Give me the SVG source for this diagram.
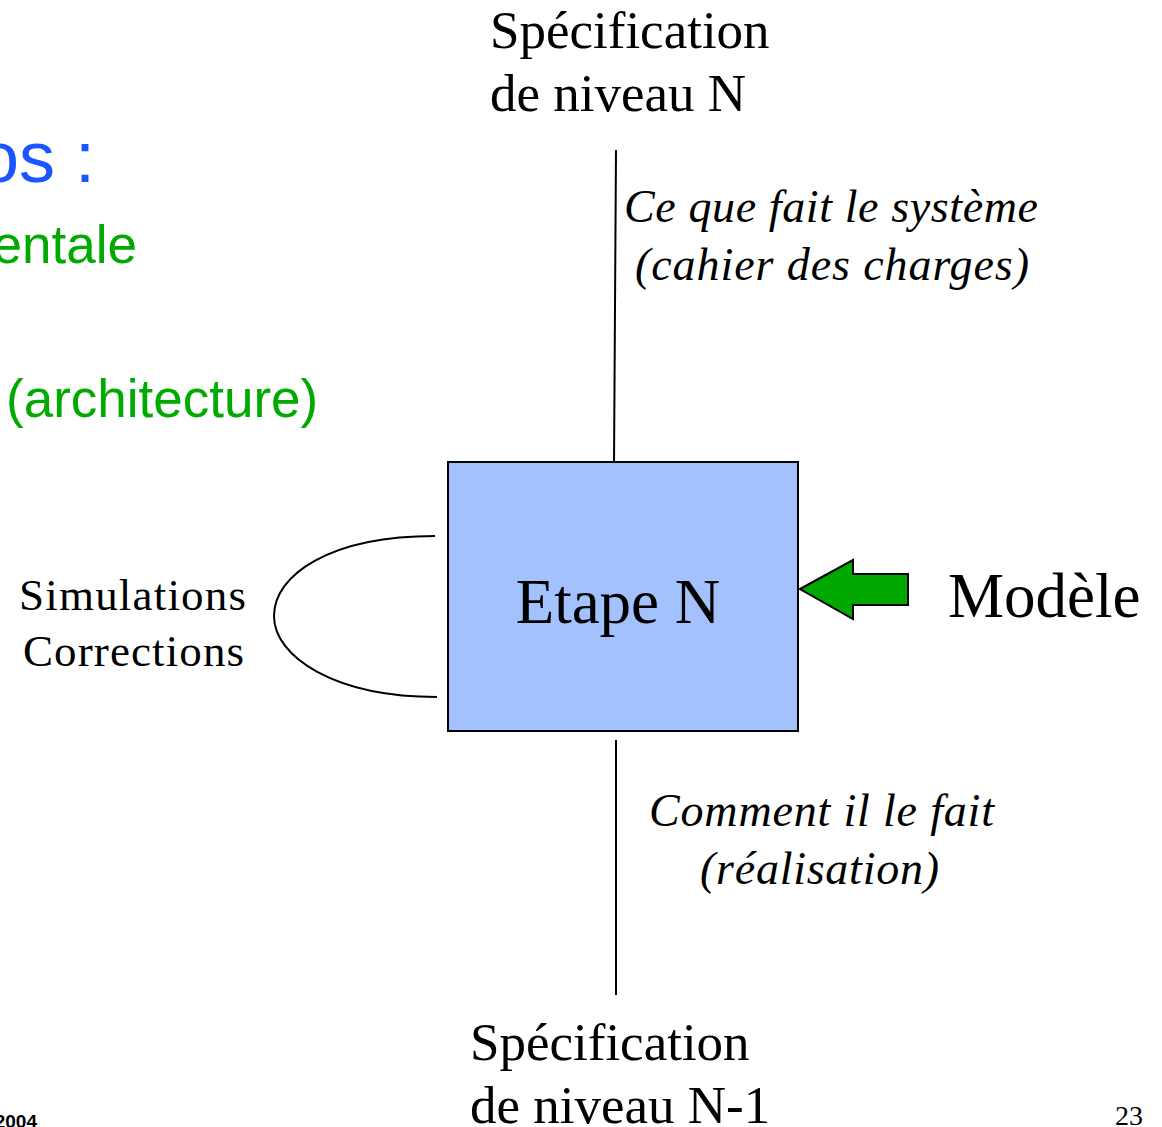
<svg xmlns="http://www.w3.org/2000/svg" width="1162" height="1127" viewBox="0 0 1162 1127">
<style>
.serif{font-family:"Liberation Serif","Times New Roman",serif;fill:#000}
.ital{font-family:"Liberation Serif","Times New Roman",serif;font-style:italic;fill:#000}
.sans{font-family:"Liberation Sans",Arial,sans-serif}
.line{stroke:#000;stroke-width:2;fill:none}
</style>
<rect width="1162" height="1127" fill="#fff"/>
<g id="background-text">
<text class="sans" x="95" y="182" font-size="72" text-anchor="end" fill="#1a55ff">os :</text>
<text class="sans" x="137" y="263" font-size="53" text-anchor="end" fill="#00aa00">entale</text>
<text class="sans" x="6" y="417" font-size="53" fill="#00aa00">(architecture)</text>
<text class="sans" x="37" y="1128" font-size="19" font-weight="bold" text-anchor="end" fill="#000">2004</text>
<text class="serif" x="1143" y="1125" font-size="28" text-anchor="end">23</text>
</g>
<g id="connectors">
<path class="line" d="M616,150 L614,465"/>
<path class="line" d="M616,740 L616,995"/>
<path class="line" d="M435,536 C330,536 274,575 274,616 C274,657 335,697 437,697"/>
</g>
<g id="spec-n">
<text class="serif" x="490" y="48" font-size="53">Spécification</text>
<text class="serif" x="490" y="111" font-size="53">de niveau N</text>
</g>
<g id="label-top">
<text class="ital" x="624" y="222" font-size="46" textLength="414" lengthAdjust="spacing">Ce que fait le système</text>
<text class="ital" x="635" y="280" font-size="46" textLength="394" lengthAdjust="spacing">(cahier des charges)</text>
</g>
<g id="etape-n">
<rect x="448" y="462" width="350" height="269" fill="#a3c1fd" stroke="#000" stroke-width="2"/>
<text class="serif" x="618" y="623" font-size="63" text-anchor="middle">Etape N</text>
</g>
<g id="simulations">
<text class="serif" x="19" y="610" font-size="45" textLength="227" lengthAdjust="spacing">Simulations</text>
<text class="serif" x="23" y="666" font-size="45" textLength="221" lengthAdjust="spacing">Corrections</text>
</g>
<g id="modele">
<path d="M800,589 L853,560 L853,574 L908,574 L908,605 L853,605 L853,619 Z" fill="#00a800" stroke="#000" stroke-width="2" stroke-linejoin="miter"/>
<text class="serif" x="948" y="617" font-size="63">Modèle</text>
</g>
<g id="label-bottom">
<text class="ital" x="649" y="826" font-size="46" textLength="345" lengthAdjust="spacing">Comment il le fait</text>
<text class="ital" x="700" y="884" font-size="46" textLength="239" lengthAdjust="spacing">(réalisation)</text>
</g>
<g id="spec-n1">
<text class="serif" x="470" y="1060" font-size="53">Spécification</text>
<text class="serif" x="470" y="1123" font-size="53">de niveau N-1</text>
</g>
</svg>
